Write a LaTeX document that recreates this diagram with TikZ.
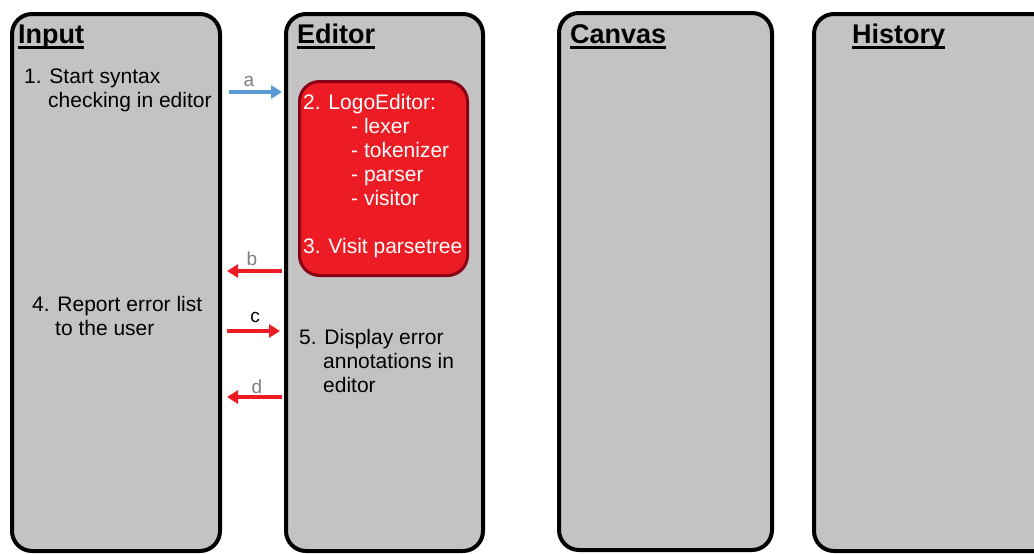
\documentclass[tikz,border=0pt]{standalone}
\usepackage{fontspec}
\setmainfont{Liberation Sans}
\usetikzlibrary{arrows.meta}
\definecolor{panelgray}{HTML}{C3C3C3}
\definecolor{boxred}{HTML}{ED1C24}
\definecolor{boxedge}{HTML}{880015}
\definecolor{callblue}{HTML}{5B9BD5}
\definecolor{lblgray}{HTML}{7F7F7F}
\newcommand\titleline[1]{\setbox0\hbox{#1}\rlap{\rule[-5.5pt]{\wd0}{2.5pt}}\box0}
\tikzset{
  panel/.style={draw=black, line width=4pt, fill=panelgray, rounded corners=20pt,
    inner sep=0pt, outer sep=0pt, anchor=north west},
  logobox/.style={draw=boxedge, line width=3pt, fill=boxred, rounded corners=20pt,
    inner sep=0pt, outer sep=0pt, anchor=north west},
  title/.style={anchor=base west, inner sep=0pt, font=\fontsize{27}{30}\selectfont\bfseries},
  body/.style={anchor=base west, inner sep=0pt, font=\fontsize{21}{24}\selectfont},
  inbox/.style={body, text=white},
  lbl/.style={anchor=base, inner sep=0pt, font=\fontsize{19}{22}\selectfont},
  call/.style={line width=3.5pt, -{Triangle[length=11pt,width=13pt]}},
}
\begin{document}
\begin{tikzpicture}[x=1pt,y=-1pt]
\clip (0,0) rectangle (1034,554);

% swimlanes
\node[panel, minimum width=208pt, minimum height=537pt] (input)   at (12,14)  {};
\node[panel, minimum width=197pt, minimum height=537pt] (editor)  at (286,14) {};
\node[panel, minimum width=213pt, minimum height=537pt] (canvas)  at (559,13) {};
\node[panel, minimum width=260pt, minimum height=537pt] (history) at (814,14) {};

% lane titles
\node[title] (tinput)   at (18,43)  {\titleline{Input}};
\node[title] (teditor)  at (297,43) {\titleline{Editor}};
\node[title] (tcanvas)  at (570,43) {\titleline{Canvas}};
\node[title] (thistory) at (852,43) {\titleline{History}};

% input lane steps
\node[body] (s1a) at (24,83)  {1. Start syntax};
\node[body] (s1b) at (48,107) {checking in editor};
\node[body] (s4a) at (32,311) {4. Report error list};
\node[body] (s4b) at (55,335) {to the user};

% editor: syntax checking block
\node[logobox, minimum width=168pt, minimum height=194pt] (logo) at (299.5,81.5) {};
\node[inbox] (s2)  at (303,109) {2. LogoEditor:};
\node[inbox] (s2a) at (351,133) {- lexer};
\node[inbox] (s2b) at (351,157) {- tokenizer};
\node[inbox] (s2c) at (351,181) {- parser};
\node[inbox] (s2d) at (351,205) {- visitor};
\node[inbox] (s3)  at (303,253) {3. Visit parsetree};

% editor: annotations
\node[body] (s5a) at (299,344) {5. Display error};
\node[body] (s5b) at (323,368) {annotations in};
\node[body] (s5c) at (323,392) {editor};

% message ends between the lanes
\coordinate (a1) at (229,92);  \coordinate (a2) at (282,92);
\coordinate (b1) at (282,271); \coordinate (b2) at (227,271);
\coordinate (c1) at (227,331); \coordinate (c2) at (280,331);
\coordinate (d1) at (282,397); \coordinate (d2) at (227,397);

\draw[call, callblue] (a1) -- (a2);
\draw[call, boxred]   (b1) -- (b2);
\draw[call, boxred]   (c1) -- (c2);
\draw[call, boxred]   (d1) -- (d2);

\node[lbl, text=lblgray] (la) at (249,86)  {a};
\node[lbl, text=lblgray] (lb) at (252,265) {b};
\node[lbl, text=black]   (lc) at (255,322) {c};
\node[lbl, text=lblgray] (ld) at (257,393) {d};
\end{tikzpicture}
\end{document}
